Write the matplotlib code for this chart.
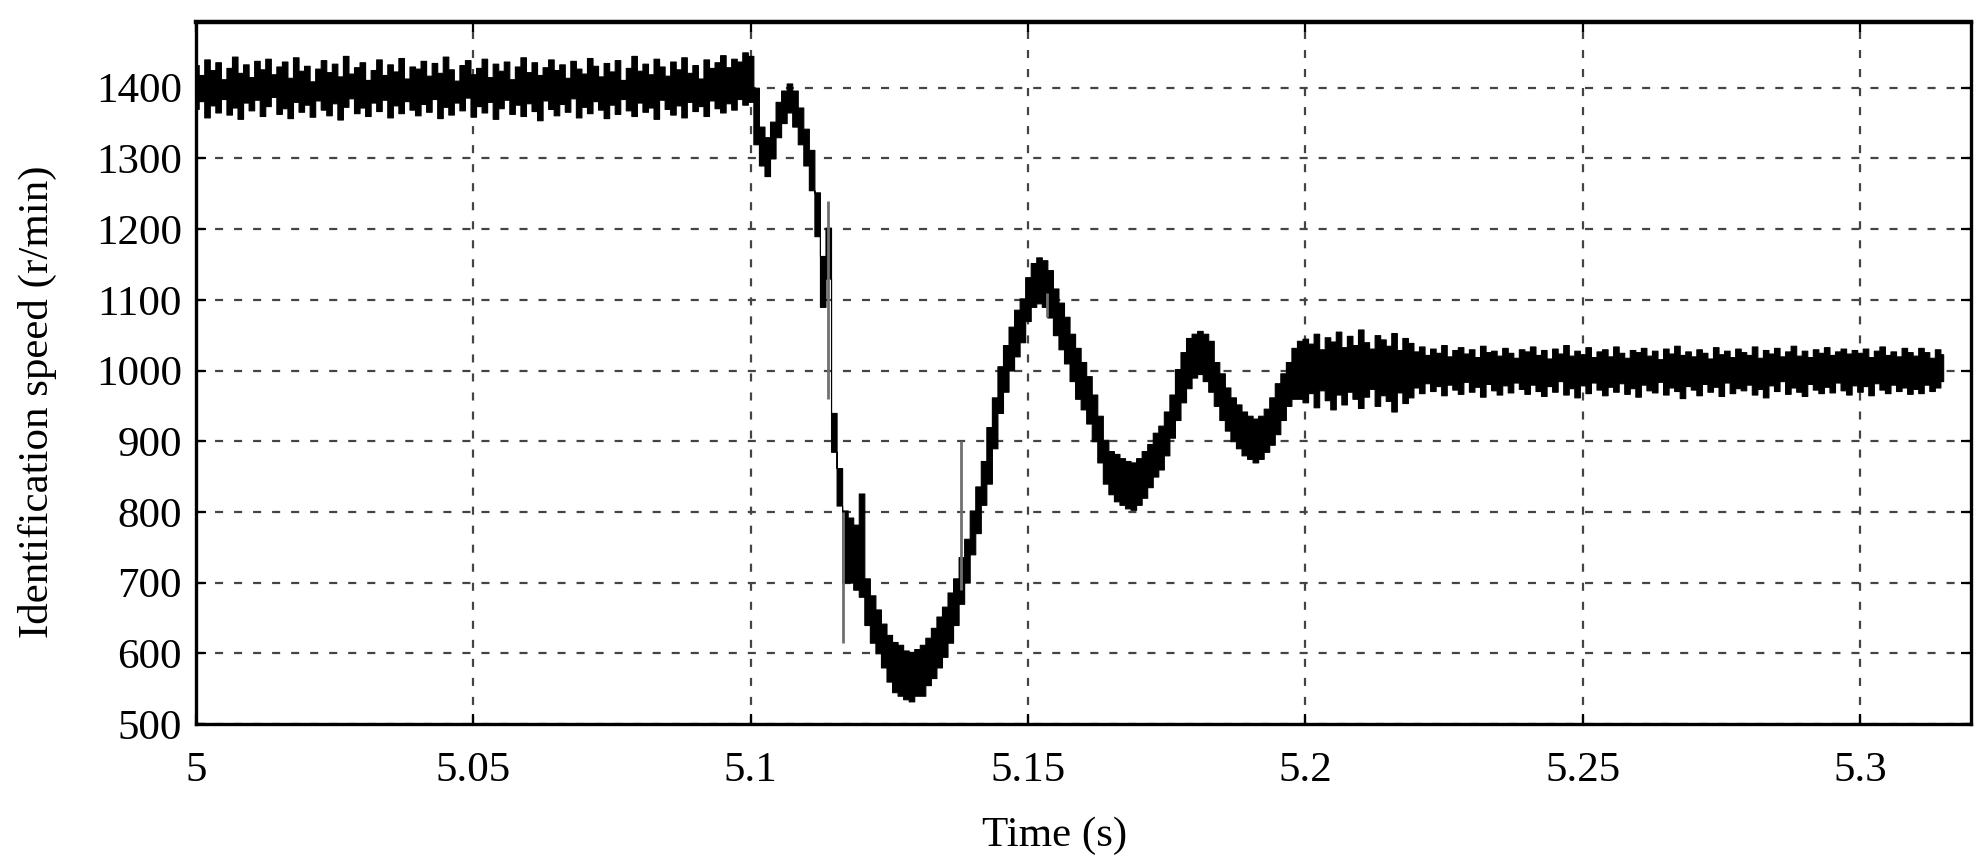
import numpy as np
import matplotlib.pyplot as plt

plt.rcParams['font.family'] = ['Liberation Serif', 'DejaVu Serif']
plt.rcParams['lines.scale_dashes'] = False

# Time axis: one bin per millisecond, 5.000 ... 5.315 s
t0 = 5.0
dt = 0.001

# Upper / lower envelope of the noisy speed trace (r/min)
hi_flat = [1432, 1418, 1440, 1425, 1436, 1412, 1428, 1444, 1421, 1433,
           1415, 1438, 1426, 1441, 1419, 1430, 1437, 1414, 1443, 1424,
           1431, 1409, 1427, 1439, 1422, 1434, 1416, 1445, 1420, 1429,
           1436, 1411, 1425, 1440, 1418, 1433, 1423, 1442, 1413, 1430,
           1427, 1438, 1417, 1435, 1421, 1444, 1426, 1410, 1432, 1439,
           1419, 1428, 1441, 1415, 1434, 1424, 1437, 1412, 1430, 1443,
           1422, 1436, 1418, 1429, 1440, 1425, 1433, 1414, 1438, 1427,
           1420, 1442, 1431, 1416, 1435, 1423, 1439, 1411, 1428, 1445,
           1424, 1434, 1419, 1441, 1430, 1417, 1437, 1426, 1443, 1421,
           1432, 1413, 1440, 1428, 1436, 1446, 1429, 1441, 1437, 1450]
lo_flat = [1370, 1381, 1358, 1375, 1365, 1384, 1362, 1372, 1356, 1379,
           1368, 1383, 1360, 1374, 1387, 1363, 1371, 1357, 1380, 1366,
           1376, 1359, 1382, 1369, 1361, 1378, 1355, 1373, 1385, 1364,
           1372, 1360, 1379, 1367, 1383, 1358, 1375, 1364, 1381, 1369,
           1361, 1377, 1366, 1384, 1357, 1373, 1362, 1379, 1368, 1386,
           1359, 1374, 1365, 1380, 1356, 1371, 1383, 1363, 1376, 1360,
           1378, 1367, 1354, 1382, 1370, 1361, 1377, 1366, 1385, 1358,
           1373, 1364, 1381, 1369, 1357, 1376, 1363, 1384, 1368, 1360,
           1379, 1366, 1372, 1356, 1383, 1370, 1362, 1375, 1358, 1380,
           1367, 1374, 1360, 1382, 1371, 1365, 1378, 1369, 1384, 1376]

hi_trans = [1445, 1400, 1345, 1330, 1352, 1380, 1396, 1406, 1396, 1372,
            1342, 1312, 1252, 1162, 1202, 940, 862, 802, 792, 782,
            826, 706, 682, 662, 642, 626, 616, 612, 604, 602,
            606, 612, 622, 636, 652, 666, 686, 706, 736, 762,
            802, 836, 872, 920, 962, 1006, 1036, 1062, 1086, 1102,
            1132, 1152, 1160, 1156, 1142, 1116, 1096, 1076, 1052, 1032,
            1012, 992, 966, 936, 902, 886, 882, 876, 872, 870,
            876, 886, 896, 912, 922, 942, 966, 1002, 1026, 1046,
            1052, 1056, 1052, 1042, 1012, 996, 976, 962, 952, 942,
            936, 932, 936, 946, 962, 982, 996, 1012, 1032, 1042]
lo_trans = [1380, 1320, 1290, 1275, 1300, 1330, 1350, 1365, 1345, 1320,
            1290, 1255, 1190, 1090, 1130, 885, 809, 700, 700, 690,
            680, 640, 615, 600, 580, 560, 545, 540, 535, 532,
            540, 540, 555, 565, 580, 595, 615, 640, 670, 700,
            740, 770, 810, 840, 890, 940, 970, 1000, 1020, 1040,
            1070, 1090, 1095, 1090, 1075, 1050, 1030, 1010, 985, 960,
            945, 925, 900, 870, 840, 825, 815, 810, 805, 803,
            810, 820, 835, 850, 860, 880, 905, 930, 955, 975,
            990, 995, 985, 970, 950, 930, 915, 900, 890, 880,
            875, 870, 875, 885, 895, 910, 930, 950, 960, 960]

hi_tail = [1045, 1038, 1052, 1030, 1047, 1041, 1055, 1033, 1049, 1036,
           1058, 1040, 1031, 1050, 1044, 1035, 1053, 1029, 1046, 1039,
           1027, 1034, 1022, 1031, 1025, 1036, 1020, 1029, 1033, 1024,
           1030, 1019, 1035, 1026, 1028, 1021, 1032, 1025, 1018, 1030,
           1027, 1034, 1022, 1029, 1017, 1031, 1024, 1036, 1021, 1028,
           1023, 1033, 1019, 1027, 1030, 1020, 1034, 1025, 1018, 1029,
           1026, 1032, 1021, 1028, 1016, 1031, 1024, 1035, 1022, 1027,
           1020, 1030, 1025, 1017, 1033, 1023, 1028, 1019, 1031, 1026,
           1022, 1034, 1018, 1029, 1024, 1032, 1020, 1027, 1035, 1021,
           1028, 1019, 1030, 1025, 1033, 1022, 1027, 1031, 1024, 1029,
           1025, 1031, 1019, 1028, 1034, 1022, 1027, 1020, 1032, 1026,
           1021, 1032, 1026, 1018, 1030, 1023]
lo_tail = [955, 968, 948, 972, 958, 945, 966, 952, 970, 960,
           947, 963, 974, 950, 965, 957, 942, 969, 954, 962,
           976, 968, 982, 971, 978, 965, 980, 973, 967, 984,
           970, 977, 963, 981, 972, 966, 979, 969, 983, 974,
           967, 980, 971, 964, 978, 970, 985, 966, 975, 962,
           979, 968, 983, 973, 965, 977, 970, 982, 967, 975,
           963, 980, 972, 969, 984, 966, 976, 971, 961, 978,
           973, 965, 981, 970, 977, 964, 983, 968, 975, 972,
           980, 966, 974, 962, 979, 971, 985, 967, 976, 970,
           964, 981, 973, 968, 977, 969, 983, 972, 966, 979,
           970, 978, 965, 982, 973, 968, 980, 971, 976, 967,
           974, 968, 980, 971, 976, 985]

# thin grey spikes: time, low, high
spike_t = [5.1140, 5.1166, 5.1380, 5.1535]
spike_lo = [960, 615, 690, 1075]
spike_hi = [1240, 800, 900, 1110]

x_ticks = [5, 5.05, 5.1, 5.15, 5.2, 5.25, 5.3]
x_labels = ['5', '5.05', '5.1', '5.15', '5.2', '5.25', '5.3']
y_ticks = [500, 600, 700, 800, 900, 1000, 1100, 1200, 1300, 1400]

hi = np.array(hi_flat + hi_trans + hi_tail)
lo = np.array(lo_flat + lo_trans + lo_tail)
t = t0 + dt * np.arange(len(hi))

fig = plt.figure(figsize=(19.87, 8.68), dpi=100)
ax = fig.add_axes([0.0986, 0.1659, 0.8933, 0.8088])

ax.fill_between(t, lo, hi, step='mid', color='black', lw=0.8, zorder=3)
ax.vlines(spike_t, spike_lo, spike_hi, color='#707070', lw=2.0, zorder=3)

ax.set_xlim(5.0, 5.32)
ax.set_ylim(500, 1493)
ax.set_xticks(x_ticks)
ax.set_xticklabels(x_labels)
ax.set_yticks(y_ticks)

ax.grid(True, color='#444444', lw=1.6, dashes=(5.8, 7.9), zorder=1)
ax.tick_params(direction='in', length=7, width=1.6, labelsize=31,
               top=True, right=True, pad=10)
ax.tick_params(axis='x', pad=20)
for s in ax.spines.values():
    s.set_linewidth(2.4)
ax.spines['top'].set_linewidth(3.2)

ax.set_xlabel('Time (s)', fontsize=31)
ax.set_ylabel('Identification speed (r/min)', fontsize=31)
ax.xaxis.set_label_coords(0.484, -0.132)
ax.yaxis.set_label_coords(-0.078, 0.459)

fig.savefig('out.png', dpi=100)
